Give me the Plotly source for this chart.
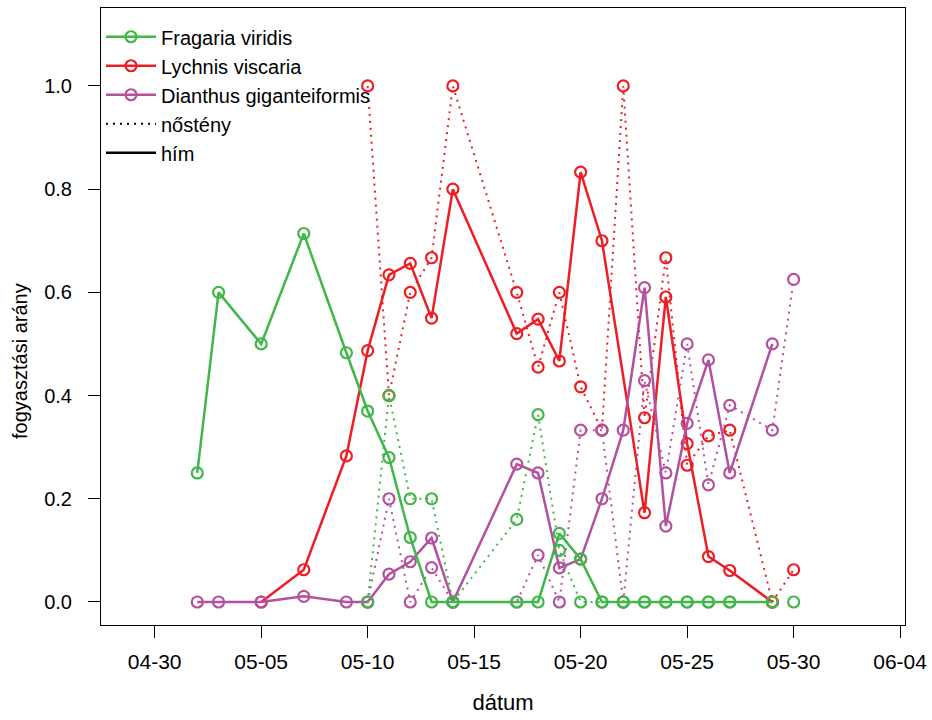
import plotly.graph_objects as go

YEAR = "2022"

# --- Fragaria viridis -------------------------------------------------------
fragaria_him_dates = ["05-02", "05-03", "05-05", "05-07", "05-09", "05-10", "05-11",
                      "05-12", "05-13", "05-14", "05-17", "05-18", "05-19", "05-20",
                      "05-21", "05-22", "05-23", "05-24", "05-25", "05-26", "05-27",
                      "05-29"]
fragaria_him = [0.25, 0.60, 0.50, 0.714, 0.483, 0.37, 0.28, 0.125, 0.0, 0.0, 0.0, 0.0,
                0.133, 0.083, 0.0, 0.0, 0.0, 0.0, 0.0, 0.0, 0.0, 0.0]

fragaria_nosteny_dates = ["05-10", "05-11", "05-12", "05-13", "05-14", "05-17", "05-18",
                          "05-19", "05-20", "05-21", "05-22", "05-23", "05-24", "05-25",
                          "05-26", "05-27", None, "05-30"]
fragaria_nosteny = [0.0, 0.40, 0.20, 0.20, 0.0, 0.16, 0.363, 0.10, 0.0, 0.0, 0.0, 0.0,
                    0.0, 0.0, 0.0, 0.0, None, 0.0]

# --- Lychnis viscaria -------------------------------------------------------
lychnis_him_dates = ["05-05", "05-07", "05-09", "05-10", "05-11", "05-12", "05-13",
                     "05-14", "05-17", "05-18", "05-19", "05-20", "05-21", "05-23",
                     "05-24", "05-25", "05-26", "05-27", "05-29"]
lychnis_him = [0.0, 0.0625, 0.283, 0.487, 0.634, 0.656, 0.55, 0.80, 0.52, 0.548, 0.467,
               0.833, 0.70, 0.173, 0.591, 0.307, 0.088, 0.061, 0.0]

lychnis_nosteny_dates = ["05-10", "05-11", "05-12", "05-13", "05-14", "05-17", "05-18",
                         "05-19", "05-20", "05-21", "05-22", "05-23", "05-24", "05-25",
                         "05-26", "05-27", "05-29", "05-30"]
lychnis_nosteny = [1.0, 0.40, 0.60, 0.667, 1.0, 0.60, 0.455, 0.60, 0.417, 0.333, 1.0,
                   0.357, 0.667, 0.265, 0.322, 0.333, 0.0, 0.0625]

# --- Dianthus giganteiformis ------------------------------------------------
dianthus_him_dates = ["05-02", "05-03", "05-05", "05-07", "05-09", "05-10", "05-11",
                      "05-12", "05-13", "05-14", "05-17", "05-18", "05-19", "05-20",
                      "05-21", "05-22", "05-23", "05-24", "05-25", "05-26", "05-27",
                      "05-29"]
dianthus_him = [0.0, 0.0, 0.0, 0.011, 0.0, 0.0, 0.054, 0.078, 0.124, 0.0, 0.267, 0.25,
                0.066, 0.083, 0.20, 0.333, 0.609, 0.147, 0.346, 0.469, 0.25, 0.50]

dianthus_nosteny_dates = ["05-10", "05-11", "05-12", "05-13", "05-14", "05-17", "05-18",
                          "05-19", "05-20", "05-21", "05-22", "05-23", "05-24", "05-25",
                          "05-26", "05-27", "05-29", "05-30"]
dianthus_nosteny = [0.0, 0.20, 0.0, 0.0667, 0.0, 0.0, 0.0909, 0.0, 0.333, 0.333, 0.0,
                    0.429, 0.25, 0.50, 0.227, 0.381, 0.333, 0.625]

species = ["Fragaria viridis", "Lychnis viscaria", "Dianthus giganteiformis"]
sex_labels = ["nőstény", "hím"]

tick_dates = ["04-30", "05-05", "05-10", "05-15", "05-20", "05-25", "05-30", "06-04"]
tick_labels = ["04-30", "05-05", "05-10", "05-15", "05-20", "05-25", "05-30", "06-04"]
y_ticks = [0.0, 0.2, 0.4, 0.6, 0.8, 1.0]
y_tick_labels = ["0.0", "0.2", "0.4", "0.6", "0.8", "1.0"]

GREEN = "#41B649"
RED = "#EE1D24"
PURPLE = "#B4519F"
FONT = "Liberation Sans, Arial, sans-serif"
DOT = "2px,5px"
MARKER_SIZE = 11


def full_dates(days):
    return [None if d is None else f"{YEAR}-{d}" for d in days]


fig = go.Figure()

# legend entries
for name, color in zip(species, [GREEN, RED, PURPLE]):
    fig.add_trace(go.Scatter(
        x=[None], y=[None], name=name, mode="lines+markers",
        line=dict(color=color, width=2.5),
        marker=dict(symbol="circle-open", size=MARKER_SIZE, color=color,
                    line=dict(width=2.2)),
    ))
fig.add_trace(go.Scatter(x=[None], y=[None], name=sex_labels[0], mode="lines",
                         line=dict(color="black", width=2, dash=DOT)))
fig.add_trace(go.Scatter(x=[None], y=[None], name=sex_labels[1], mode="lines",
                         line=dict(color="black", width=2.5)))

series = [
    (lychnis_nosteny_dates, lychnis_nosteny, RED, True),
    (lychnis_him_dates, lychnis_him, RED, False),
    (dianthus_nosteny_dates, dianthus_nosteny, PURPLE, True),
    (dianthus_him_dates, dianthus_him, PURPLE, False),
    (fragaria_nosteny_dates, fragaria_nosteny, GREEN, True),
    (fragaria_him_dates, fragaria_him, GREEN, False),
]
for dates, vals, color, dotted in series:
    fig.add_trace(go.Scatter(
        x=full_dates(dates), y=vals, mode="lines+markers", showlegend=False,
        connectgaps=False,
        line=dict(color=color, width=2 if dotted else 2.5, dash=DOT if dotted else "solid"),
        marker=dict(symbol="circle-open", size=MARKER_SIZE, color=color,
                    line=dict(width=2.2)),
    ))

fig.update_layout(
    width=932, height=720,
    margin=dict(l=101, r=27, t=8, b=95, autoexpand=False),
    paper_bgcolor="white", plot_bgcolor="white",
    font=dict(family=FONT, size=20, color="black"),
    legend=dict(x=0.0, y=0.985, xanchor="left", yanchor="top",
                bgcolor="rgba(0,0,0,0)", font=dict(size=20), tracegroupgap=0,
                itemwidth=50),
    xaxis=dict(
        type="date", automargin=False,
        range=[f"{YEAR}-04-27 11:30", f"{YEAR}-06-04 05:30"],
        tickvals=full_dates(tick_dates), ticktext=tick_labels,
        tickfont=dict(size=21),
        showgrid=False, zeroline=False,
        showline=True, mirror=True, linecolor="black", linewidth=1,
        ticks="outside", ticklen=12, tickcolor="black", tickwidth=1,
        ticklabelstandoff=6,
        title=dict(text="dátum", standoff=22, font=dict(size=22)),
    ),
    yaxis=dict(
        automargin=False,
        range=[-0.0446, 1.151],
        tickvals=y_ticks, ticktext=y_tick_labels,
        showgrid=False, zeroline=False,
        showline=True, mirror=True, linecolor="black", linewidth=1,
        ticks="outside", ticklen=12, tickcolor="black", tickwidth=1,
        ticklabelstandoff=12,
    ),
    annotations=[dict(
        text="fogyasztási arány", textangle=-90, showarrow=False,
        xref="paper", yref="paper", x=-0.1007, y=0.428,
        xanchor="center", yanchor="middle", font=dict(size=20),
    )],
)

fig.write_html("out.html")
